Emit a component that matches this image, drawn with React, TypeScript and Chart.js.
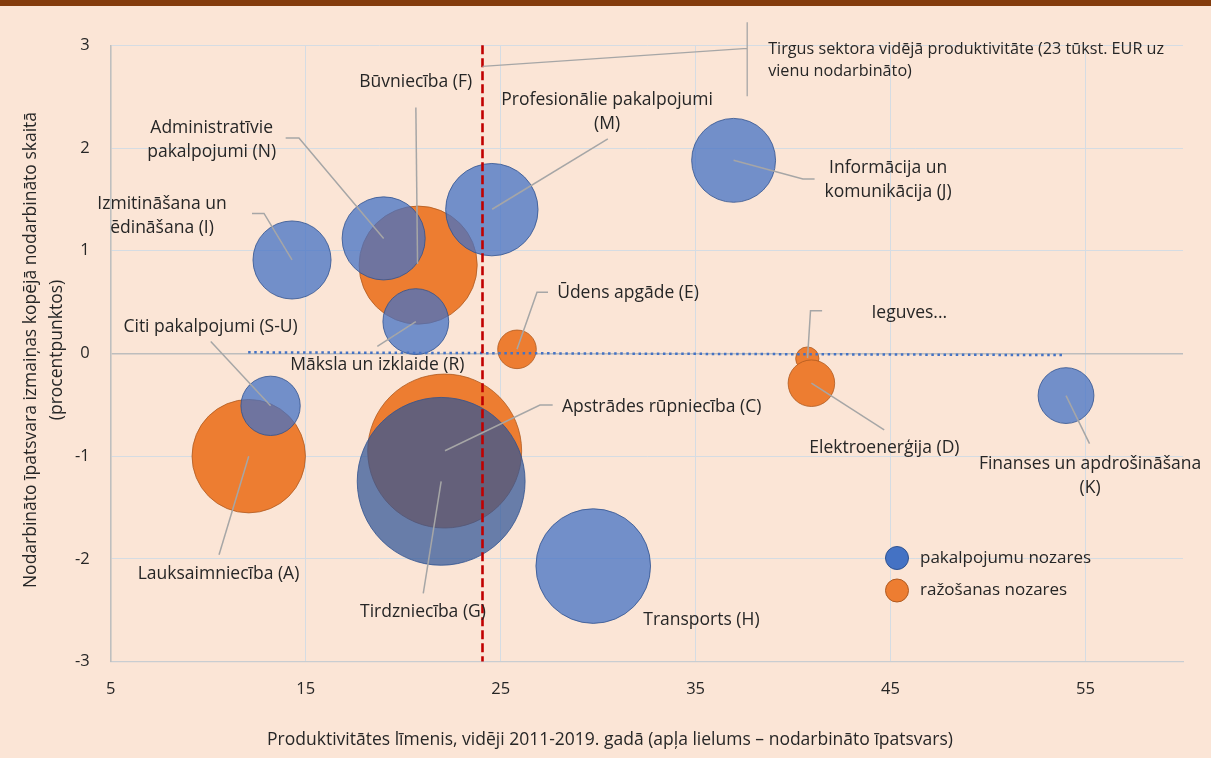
import React, { useEffect, useRef } from "react";
import { Chart, registerables } from "chart.js";

Chart.register(...registerables);

// ---------- DATA ----------
// x: productivity level, average 2011-2019 (thous. EUR per employee)
// y: change in employment share (percentage points)
// share: employment share (%) -> bubble size
const serviceNames: string[][] = [
  ["Izmitināšana un", "ēdināšana (I)"],
  ["Administratīvie", "pakalpojumi (N)"],
  ["Profesionālie pakalpojumi", "(M)"],
  ["Informācija un", "komunikācija (J)"],
  ["Māksla un izklaide (R)"],
  ["Citi pakalpojumi (S-U)"],
  ["Tirdzniecība (G)"],
  ["Transports (H)"],
  ["Finanses un apdrošināšana", "(K)"],
];
const serviceProductivity = [14.3, 19.0, 24.55, 36.95, 20.65, 13.2, 21.95, 29.75, 54.0];
const serviceChange = [0.91, 1.12, 1.4, 1.88, 0.31, -0.51, -1.245, -2.07, -0.41];
const serviceShare = [4.5, 5.1, 6.3, 5.2, 3.2, 2.6, 20.8, 9.7, 2.3];

const industryNames: string[][] = [
  ["Būvniecība (F)"],
  ["Ūdens apgāde (E)"],
  ["Ieguves..."],
  ["Elektroenerģija (D)"],
  ["Lauksaimniecība (A)"],
  ["Apstrādes rūpniecība (C)"],
];
const industryProductivity = [20.77, 25.84, 40.73, 40.94, 12.08, 22.13];
const industryChange = [0.86, 0.04, -0.05, -0.29, -1.0, -0.95];
const industryShare = [10.3, 1.1, 0.4, 1.6, 9.5, 17.5];

const legendLabels = ["pakalpojumu nozares", "ražošanas nozares"];

// market sector average productivity (vertical line) and trend line
const avgProductivity = 24.07;
const avgLineY = [3, -3];
const avgNote = ["Tirgus sektora vidējā produktivitāte (23 tūkst. EUR uz", "vienu nodarbināto)"];
const trendX = [12.05, 53.8];
const trendY = [0.011, -0.016];

const xTicks = [5, 15, 25, 35, 45, 55];
const yTicks = [-3, -2, -1, 0, 1, 2, 3];
const xTitle = "Produktivitātes līmenis, vidēji 2011-2019. gadā (apļa lielums – nodarbināto īpatsvars)";
const yTitle = ["Nodarbināto īpatsvara izmaiņas kopējā nodarbināto skaitā", "(procentpunktos)"];

// ---------- LAYOUT (label placement relative to bubble centre, px) ----------
type Lay = { t: [number, number]; l?: [number, number][] };
const serviceLayout: Lay[] = [
  { t: [-130, -56], l: [[-40, -46.5], [-28, -46.5], [0, 0]] },
  { t: [-172, -110], l: [[-98, -100.5], [-84.7, -100.5], [0, 0]] },
  { t: [115.3, -109.7], l: [[116, -70.7], [0.3, -0.4]] },
  { t: [154.5, 8], l: [[0, 0], [69.3, 18.7], [81, 18.7]] },
  { t: [-38.5, 43], l: [[-38.5, 24.7], [0, 0]] },
  { t: [-60, -79.3], l: [[-59.8, -64.3], [0, 0]] },
  { t: [-18.2, 130.4], l: [[-17.9, 112], [0, 0]] },
  { t: [108.2, 53.5] },
  { t: [24, 68], l: [[0, 0], [23.5, 48]] },
];
const industryLayout: Lay[] = [
  { t: [-2.5, -182.7], l: [[-2.3, -157.7], [-0.6, -1]] },
  { t: [111, -56], l: [[31, -57], [20, -57], [0, 0]] },
  { t: [102, -45.5], l: [[14.8, -47.8], [3.2, -47.8], [0.2, -0.5]] },
  { t: [73, 65], l: [[0, 0], [72.8, 46.7]] },
  { t: [-30.2, 117.6], l: [[-29.7, 98.6], [0, 0]] },
  { t: [217, -44.3], l: [[108, -46], [95.3, -46], [0.3, -0.3]] },
];

const FONT = "'Open Sans', 'Noto Sans', sans-serif";
const TEXT = "#262626";
const SIZE_K = 18.4;
const LBL = 17.5;

const blue = "rgba(68,114,196,0.75)";
const blueDark = "rgba(47,85,151,0.72)";
const orange = "#ED7D31";

const annotPlugin = {
  id: "annot",
  afterDatasetsDraw(chart: any) {
    const ctx = chart.ctx as CanvasRenderingContext2D;
    const xs = chart.scales.x;
    const ca = chart.chartArea;
    ctx.save();
    const groups = [
      { di: 2, names: serviceNames, lay: serviceLayout },
      { di: 3, names: industryNames, lay: industryLayout },
    ];
    // leader lines
    ctx.strokeStyle = "#A6A6A6";
    ctx.lineWidth = 1.5;
    groups.forEach((g) => {
      const meta = chart.getDatasetMeta(g.di);
      g.lay.forEach((l, i) => {
        const el = meta.data[i];
        if (!el || !l.l) return;
        ctx.beginPath();
        l.l.forEach(([dx, dy], k) => {
          if (k === 0) ctx.moveTo(el.x + dx, el.y + dy);
          else ctx.lineTo(el.x + dx, el.y + dy);
        });
        ctx.stroke();
      });
    });
    // labels
    ctx.fillStyle = TEXT;
    ctx.font = `${LBL}px ${FONT}`;
    ctx.textAlign = "center";
    ctx.textBaseline = "middle";
    groups.forEach((g) => {
      const meta = chart.getDatasetMeta(g.di);
      g.lay.forEach((l, i) => {
        const el = meta.data[i];
        if (!el) return;
        g.names[i].forEach((t, k) => ctx.fillText(t, el.x + l.t[0], el.y + l.t[1] + k * 24));
      });
    });
    // average productivity callout
    const rx = xs.getPixelForValue(avgProductivity);
    const bx = rx + 264.7;
    ctx.strokeStyle = "#A6A6A6";
    ctx.lineWidth = 1.3;
    ctx.beginPath();
    ctx.moveTo(rx, ca.top + 21);
    ctx.lineTo(bx, ca.top + 3);
    ctx.moveTo(bx, ca.top - 23);
    ctx.lineTo(bx, ca.top + 51);
    ctx.stroke();
    ctx.textAlign = "left";
    ctx.font = `16.2px ${FONT}`;
    avgNote.forEach((t, k) => ctx.fillText(t, bx + 21, ca.top + 4 + k * 22.5));
    // legend
    ctx.font = `17px ${FONT}`;
    const lx = 897, ly = 558;
    [
      { c: "#4472C4", b: "#2F528F" },
      { c: orange, b: "#AE5A21" },
    ].forEach((s, k) => {
      ctx.beginPath();
      ctx.arc(lx, ly + k * 32.5, 11.5, 0, Math.PI * 2);
      ctx.fillStyle = s.c;
      ctx.fill();
      ctx.strokeStyle = s.b;
      ctx.lineWidth = 1;
      ctx.stroke();
      ctx.fillStyle = TEXT;
      ctx.textAlign = "left";
      ctx.fillText(legendLabels[k], 920, ly + k * 32.5);
    });
    // axis titles
    ctx.font = `${LBL}px ${FONT}`;
    ctx.textAlign = "center";
    ctx.fillText(xTitle, 610, 740);
    yTitle.forEach((t, k) => {
      ctx.save();
      ctx.translate(31 + k * 26, 350);
      ctx.rotate(-Math.PI / 2);
      ctx.fillText(t, 0, 0);
      ctx.restore();
    });
    ctx.restore();
  },
};

export default function App() {
  const ref = useRef<HTMLCanvasElement | null>(null);
  useEffect(() => {
    document.body.style.margin = "0";
    const canvas = ref.current!;
    const blueColors = serviceShare.map((_, i) => (i === 6 ? blueDark : blue));
    const chart = new Chart(canvas, {
      type: "bubble",
      data: {
        datasets: [
          {
            type: "line",
            label: "avg",
            data: avgLineY.map((y) => ({ x: avgProductivity, y })),
            borderColor: "#C00000",
            borderWidth: 2.6,
            borderDash: [9, 4],
            pointRadius: 0,
            fill: false,
            clip: false,
          } as any,
          {
            type: "line",
            label: "trend",
            data: trendX.map((x, i) => ({ x, y: trendY[i] })),
            borderColor: "#4472C4",
            borderWidth: 2.5,
            borderDash: [2.5, 3.6],
            pointRadius: 0,
            fill: false,
          } as any,
          {
            label: legendLabels[0],
            data: serviceProductivity.map((x, i) => ({
              x,
              y: serviceChange[i],
              r: SIZE_K * Math.sqrt(serviceShare[i]),
            })),
            backgroundColor: blueColors,
            borderColor: "#2F528F",
            borderWidth: 0.8,
          },
          {
            label: legendLabels[1],
            data: industryProductivity.map((x, i) => ({
              x,
              y: industryChange[i],
              r: SIZE_K * Math.sqrt(industryShare[i]),
            })),
            backgroundColor: orange,
            borderColor: "#AE5A21",
            borderWidth: 0.8,
          },
        ],
      },
      options: {
        animation: false,
        responsive: false,
        maintainAspectRatio: false,
        events: [],
        layout: { autoPadding: false, padding: { top: 45.3, right: 28, left: 0, bottom: 0 } },
        plugins: { legend: { display: false }, tooltip: { enabled: false } },
        scales: {
          x: {
            type: "linear",
            min: 5,
            max: 60,
            afterBuildTicks: (a: any) => {
              a.ticks = xTicks.map((v) => ({ value: v }));
            },
            afterFit: (a: any) => {
              a.height = 758 - 661.6;
            },
            grid: {
              color: (c: any) => (c.tick && c.tick.value === 5 ? "#BFBFBF" : "#D5DCE3"),
              lineWidth: 1,
              drawTicks: false,
            },
            border: { display: true, color: "#C9CDD1", width: 1.3 },
            ticks: {
              padding: 18,
              color: TEXT,
              font: { family: FONT, size: 16.5 },
              maxRotation: 0,
            },
          },
          y: {
            type: "linear",
            min: -3,
            max: 3,
            afterBuildTicks: (a: any) => {
              a.ticks = yTicks.map((v) => ({ value: v }));
            },
            afterFit: (a: any) => {
              a.width = 110.7;
            },
            grid: {
              color: (c: any) => (c.tick && c.tick.value === 0 ? "#BDBDBD" : "#D5DCE3"),
              lineWidth: (c: any) => (c.tick && c.tick.value === 0 ? 1.6 : 1),
              drawTicks: false,
            },
            border: { display: true, color: "#BFBFBF", width: 1.6 },
            ticks: {
              padding: 21,
              color: TEXT,
              font: { family: FONT, size: 16.5 },
            },
          },
        },
      },
      plugins: [annotPlugin],
    } as any);
    return () => chart.destroy();
  }, []);
  return (
    <div style={{ position: "relative", width: 1211, height: 758, background: "#FBE5D6", overflow: "hidden" }}>
      <div style={{ position: "absolute", left: 0, top: 0, width: 1211, height: 6, background: "#843C0C" }} />
      <canvas ref={ref} width={1211} height={758} style={{ position: "absolute", left: 0, top: 0, width: 1211, height: 758 }} />
    </div>
  );
}
